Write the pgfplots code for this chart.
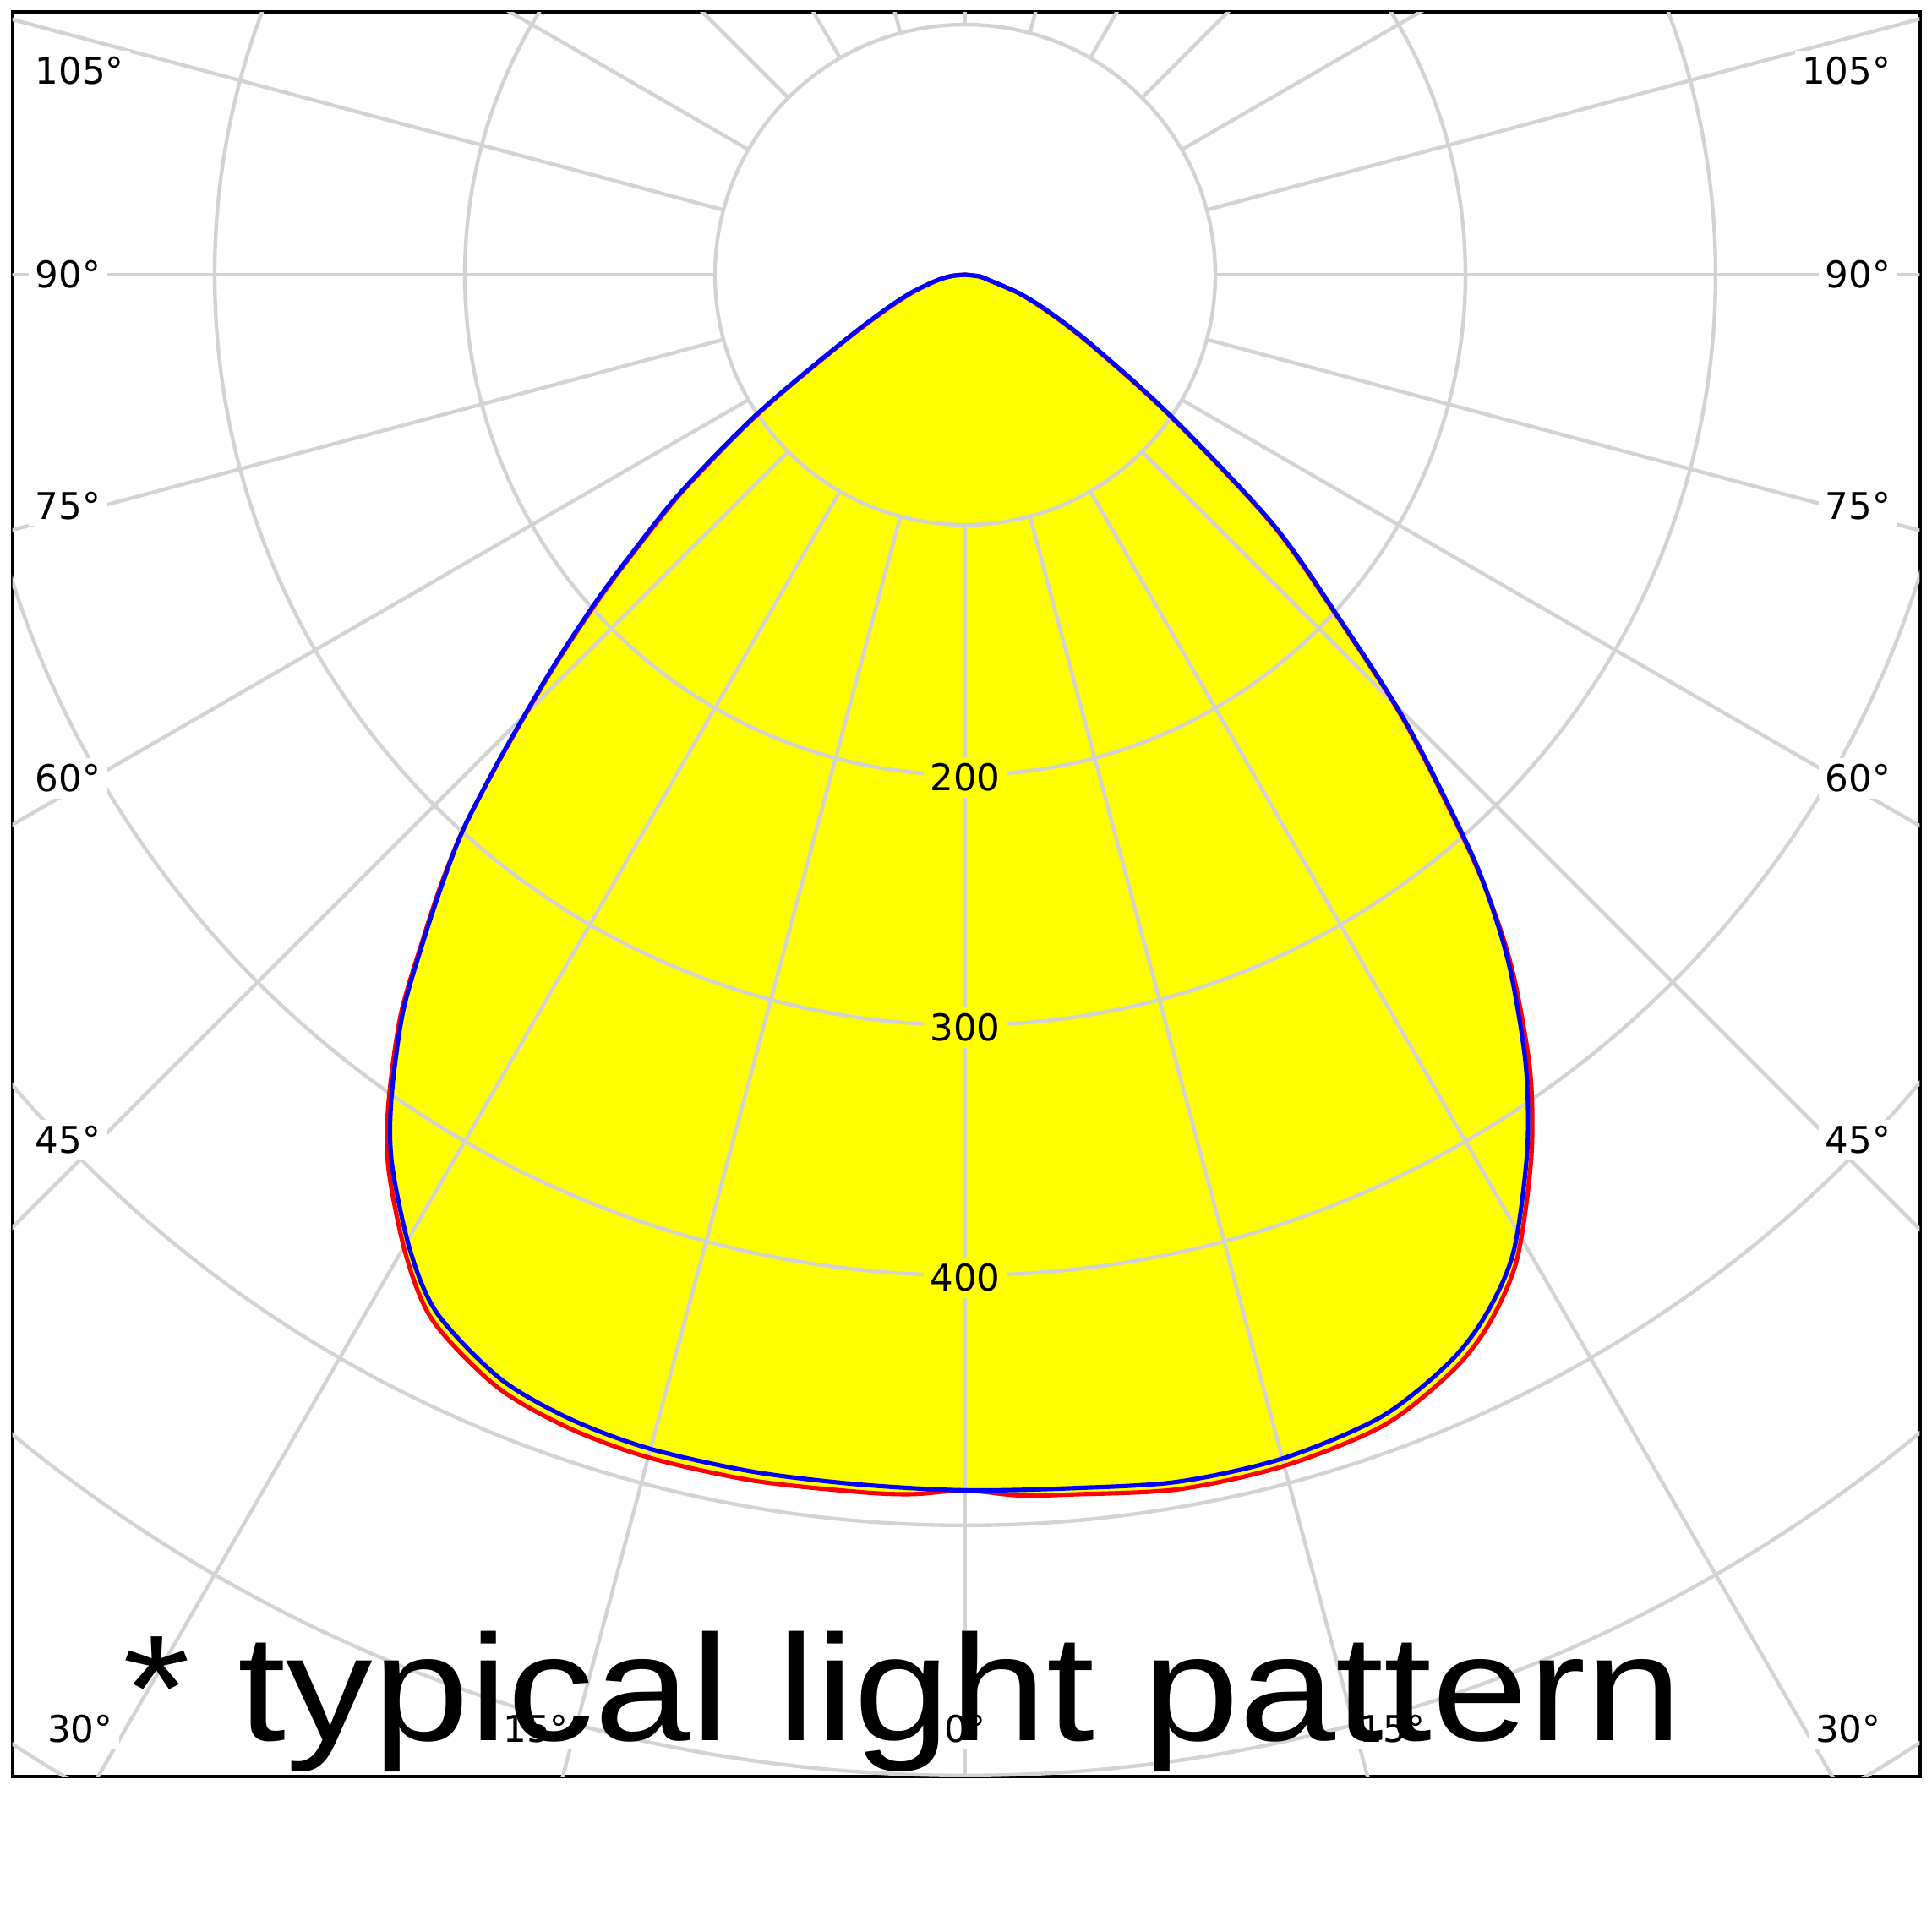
\documentclass[border=0pt]{standalone}
\usepackage{pgfplots}
\pgfplotsset{compat=1.18}
\usepackage{pgfplotstable}
\usepackage{fontspec}
\setmainfont{DejaVu Sans}
\newfontfamily\bigfont{Liberation Sans}
\definecolor{gridc}{HTML}{D3D3D3}
\definecolor{yel}{RGB}{255,255,0}
\definecolor{cred}{RGB}{255,0,0}
\definecolor{cblue}{RGB}{0,0,255}
\tikzset{
  lbl/.style={font=\fontsize{8.5}{10}\selectfont, inner sep=1.5pt, fill=white},
  grd/.style={gridc, line width=0.85pt},
}

% angle from nadir (deg, left negative), intensity
\pgfplotstableread{
ang I
-90 0
-85 5
-80 10
-75 16
-71 24
-66 36
-61 57
-56.2 100
-52.6 143
-50 175
-48.4 198
-46.3 229
-44 266
-42.2 298
-40.7 320
-39.2 342
-37.3 371
-34.8 402
-32.8 423
-29.6 449
-26.9 466
-22.8 479
-19 484
-15 486
-10 486
-5 485.5
0 486
5 487
10 490
15 490
20 486
24 476
26.6 465
29.3 448
32.7 416
35.3 388
37.8 357
39.4 335
41.2 307
44.5 252
47.5 202
51 158
55.5 100
61 58
66 37
71 23
77 10
83 6
90 0
}\bluedata

\pgfplotstableread{
ang I
-90 0
-85 5
-80 10
-75 16
-71 23
-66 35
-61 56
-56.2 98.5
-52.6 141.5
-50 173.5
-48.4 196.5
-46.3 228
-44 265.5
-42.2 298
-40.7 321
-39.2 343
-37.3 372.5
-34.8 404
-32.8 425.5
-29.6 452
-26.9 469.5
-22.8 482.5
-19 487.5
-15 489.5
-10 489.5
-5 488.5
-2.5 488
0 486
2.5 488.5
5 489.5
10 493
15 493
20 489.5
24 479.5
26.6 468.5
29.3 451
32.7 419
35.3 391
37.8 359
39.4 336
41.2 306
44.5 251
47.5 201
51 157
55.5 99
61 57
66 36
71 22.5
77 10
83 6
90 0
}\reddata

\begin{document}
\begin{tikzpicture}
\begin{axis}[
  scale only axis, width=15.48cm, height=14.32cm,
  xmin=-380.9, xmax=381.6, ymin=-600.5, ymax=104.9,
  xtick=\empty, ytick=\empty,
  axis line style={black, line width=0.8pt},
]
\addplot[draw=none, fill=yel, smooth] table[x expr={\thisrow{I}*sin(\thisrow{ang})}, y expr={-\thisrow{I}*cos(\thisrow{ang})}] {\reddata};
\addplot[draw=none, fill=yel, smooth] table[x expr={\thisrow{I}*sin(\thisrow{ang})}, y expr={-\thisrow{I}*cos(\thisrow{ang})}] {\bluedata};

% polar grid
\pgfplotsinvokeforeach{100,200,300,400,500,600,700}{
  \draw[grd] (axis cs:0,0) circle[radius=#1];
}
\pgfplotsinvokeforeach{0,15,30,45,60,75,90,105,120,135,150,165,180,195,210,225,240,255,270,285,300,315,330,345}{
  \draw[grd] (axis cs:0,0) ++(#1:2.03cm) -- ++(#1:17cm);
}

\node[lbl, fill=yel] at (axis cs:0,-201) {200};
\node[lbl, fill=yel] at (axis cs:0,-301) {300};
\node[lbl, fill=yel] at (axis cs:0,-401) {400};

\node[lbl, anchor=west] at (axis cs:-374.7,81.5) {105°};
\node[lbl, anchor=west] at (axis cs:-374.7,0) {90°};
\node[lbl, anchor=west] at (axis cs:-374.7,-92.3) {75°};
\node[lbl, anchor=west] at (axis cs:-374.7,-201.4) {60°};
\node[lbl, anchor=west] at (axis cs:-374.7,-346) {45°};
\node[lbl, anchor=east] at (axis cs:372.9,81.5) {105°};
\node[lbl, anchor=east] at (axis cs:372.9,0) {90°};
\node[lbl, anchor=east] at (axis cs:372.9,-92.3) {75°};
\node[lbl, anchor=east] at (axis cs:372.9,-201.4) {60°};
\node[lbl, anchor=east] at (axis cs:372.9,-346) {45°};
\node[lbl] at (axis cs:-353.8,-581.5) {30°};
\node[lbl] at (axis cs:-171.6,-581.5) {15°};
\node[lbl] at (axis cs:0,-581.5) {0°};
\node[lbl] at (axis cs:170.8,-581.5) {15°};
\node[lbl] at (axis cs:353,-581.5) {30°};

\addplot[cred, line width=1pt, smooth] table[x expr={\thisrow{I}*sin(\thisrow{ang})}, y expr={-\thisrow{I}*cos(\thisrow{ang})}] {\reddata};
\addplot[cblue, line width=1pt, smooth] table[x expr={\thisrow{I}*sin(\thisrow{ang})}, y expr={-\thisrow{I}*cos(\thisrow{ang})}] {\bluedata};

\node[anchor=base west, inner sep=0pt, font=\bigfont\fontsize{34.85}{40}\selectfont] at (axis cs:-337.1,-586.1) {\scalebox{1.148}[1]{* typical light pattern}};

\coordinate (sw) at (rel axis cs:0,0);
\coordinate (ne) at (rel axis cs:1,1);
\end{axis}
\path ([shift={(-0.1cm,-1.26cm)}]sw) rectangle ([shift={(0.1cm,0.1cm)}]ne);
\end{tikzpicture}
\end{document}
